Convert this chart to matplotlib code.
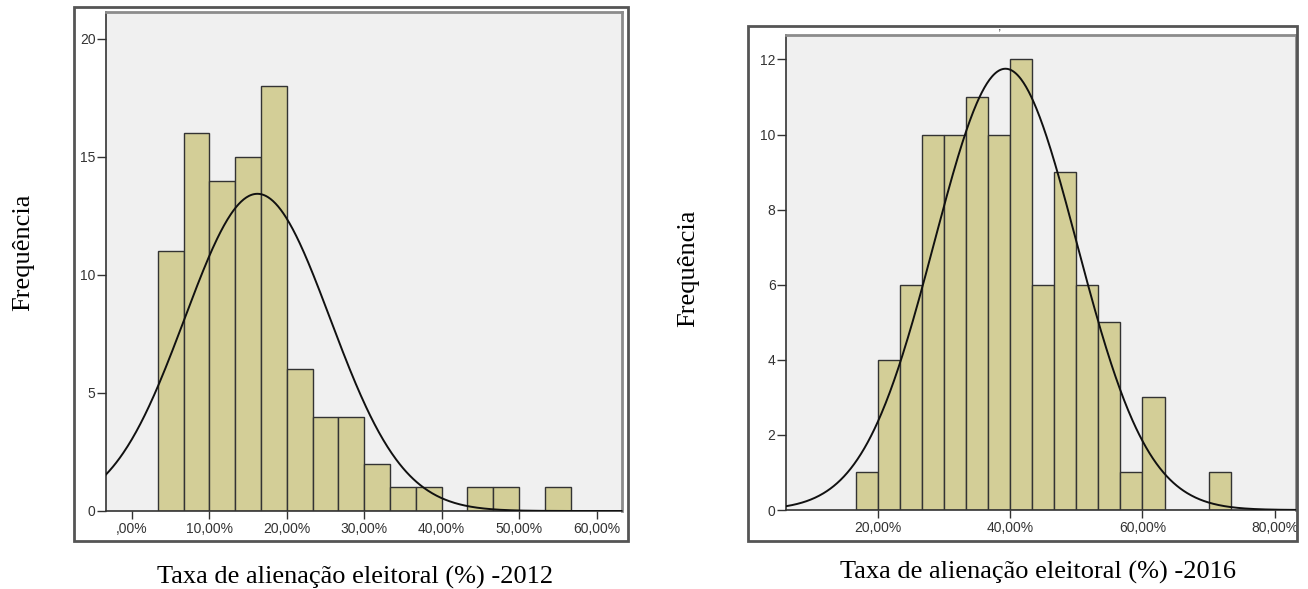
import numpy as np
import matplotlib
matplotlib.use("Agg")
import matplotlib.pyplot as plt
from matplotlib.patches import Rectangle

# ---------------- data ----------------
bin_width = 10 / 3  # percent

# 2012
start_2012 = 10 / 3
counts_2012 = [11, 16, 14, 15, 18, 6, 4, 4, 2, 1, 1, 0, 1, 1, 0, 1]
mean_2012, sd_2012 = 16.2, 9.4
xticks_2012 = [0, 10, 20, 30, 40, 50, 60]
xticklabels_2012 = [",00%", "10,00%", "20,00%", "30,00%", "40,00%", "50,00%", "60,00%"]
yticks_2012 = [0, 5, 10, 15, 20]

# 2016
start_2016 = 50 / 3
counts_2016 = [1, 4, 6, 10, 10, 11, 10, 12, 6, 9, 6, 5, 1, 3, 0, 0, 1]
mean_2016, sd_2016 = 39.3, 10.75
xticks_2016 = [20, 40, 60, 80]
xticklabels_2016 = ["20,00%", "40,00%", "60,00%", "80,00%"]
yticks_2016 = [0, 2, 4, 6, 8, 10, 12]

xlabel_2012 = "Taxa de alienação eleitoral (%) -2012"
xlabel_2016 = "Taxa de alienação eleitoral (%) -2016"
ylabel = "Frequência"

# ---------------- figure ----------------
W, H = 1308, 589
fig = plt.figure(figsize=(W / 100, H / 100), dpi=100)
fig.patch.set_facecolor("white")

def fx(px):
    return px / W

def fy(py):
    return 1 - py / H

BAR = "#D3CE97"
BG = "#F0F0F0"
DARK = "#333333"

def make_axes(x0, y0, x1, y1):
    return fig.add_axes([fx(x0), fy(y1), fx(x1) - fx(x0), (y1 - y0) / H])

def style(ax):
    ax.set_facecolor(BG)
    for s in ("top", "right"):
        ax.spines[s].set_color("#8c8c8c")
        ax.spines[s].set_linewidth(2.0)
    for s in ("left", "bottom"):
        ax.spines[s].set_color(DARK)
        ax.spines[s].set_linewidth(1.2)
    ax.tick_params(axis="y", direction="out", length=6.5, width=1.0, color=DARK,
                   pad=1, labelsize=10, labelcolor=DARK)
    ax.tick_params(axis="x", direction="out", length=5.8, width=1.0, color=DARK,
                   pad=2, labelsize=10, labelcolor=DARK)
    for lab in ax.get_xticklabels() + ax.get_yticklabels():
        lab.set_fontfamily("Liberation Sans")

def draw_hist(ax, start, counts, mean, sd, xlim):
    counts = np.asarray(counts)
    lefts = start + np.arange(len(counts)) * bin_width
    ax.bar(lefts, counts, width=bin_width, align="edge", color=BAR,
           edgecolor=DARK, linewidth=1.0, zorder=2)
    n = counts.sum()
    xs = np.linspace(xlim[0], xlim[1], 600)
    ys = n * bin_width / (sd * np.sqrt(2 * np.pi)) * np.exp(-0.5 * ((xs - mean) / sd) ** 2)
    ax.plot(xs, ys, color="#111111", linewidth=1.4, zorder=3)

# ---- left chart (2012)
fig.patches.append(Rectangle((fx(74), fy(541)), fx(628) - fx(74), (541 - 7) / H,
                             transform=fig.transFigure, fill=False,
                             edgecolor="#555555", linewidth=2.0))
ax1 = make_axes(106, 12.3, 621.7, 511)
xlim1 = (-3.35, 63.25)
draw_hist(ax1, start_2012, counts_2012, mean_2012, sd_2012, xlim1)
ax1.set_xlim(*xlim1)
ax1.set_ylim(0, 21.13)
ax1.set_xticks(xticks_2012)
ax1.set_xticklabels(xticklabels_2012)
ax1.set_yticks(yticks_2012)
style(ax1)

# ---- right chart (2016)
fig.patches.append(Rectangle((fx(748), fy(541)), fx(1297) - fx(748), (541 - 26) / H,
                             transform=fig.transFigure, fill=False,
                             edgecolor="#555555", linewidth=2.0))
ax2 = make_axes(786, 35, 1296, 510)
xlim2 = (6.14, 83.2)
draw_hist(ax2, start_2016, counts_2016, mean_2016, sd_2016, xlim2)
ax2.set_xlim(*xlim2)
ax2.set_ylim(0, 12.65)
ax2.set_xticks(xticks_2016)
ax2.set_xticklabels(xticklabels_2016)
ax2.set_yticks(yticks_2016)
style(ax2)
for lab in ax2.get_xticklabels():
    lab.set_clip_on(False)

# small remnant of the cropped title above the right chart
fig.text(fx(1000), fy(30), ",", ha="center", va="baseline", fontsize=9,
         family="Liberation Sans", color=DARK)

# ---- axis titles (serif, outside boxes)
serif = "Liberation Serif"
fig.text(fx(355), fy(584), xlabel_2012, ha="center", va="baseline",
         fontsize=19, family=serif)
fig.text(fx(1038), fy(579), xlabel_2016, ha="center", va="baseline",
         fontsize=19, family=serif)
fig.text(fx(29), fy(252), ylabel, rotation=90, rotation_mode="anchor",
         ha="center", va="baseline", fontsize=19, family=serif)
fig.text(fx(694), fy(268), ylabel, rotation=90, rotation_mode="anchor",
         ha="center", va="baseline", fontsize=19, family=serif)

fig.savefig("out.png", dpi=100, facecolor="white")
